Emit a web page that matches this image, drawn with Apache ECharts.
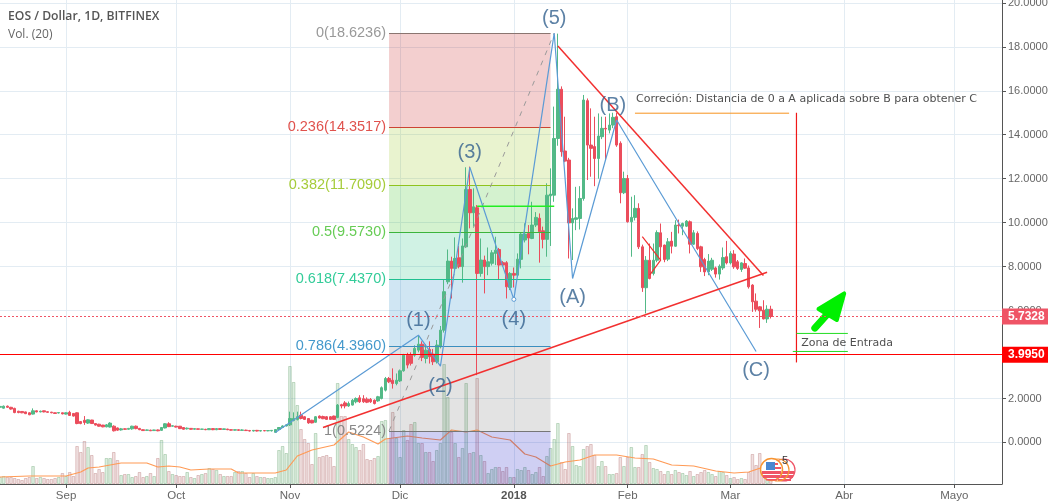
<!DOCTYPE html>
<html>
<head>
<meta charset="utf-8">
<script src="https://cdn.jsdelivr.net/npm/echarts@6/dist/echarts.min.js"></script>
<style>
html, body { margin: 0; padding: 0; background: #fff; }
#main { width: 1053px; height: 503px; }
</style>
</head>
<body>
<div id="main"></div>
<script>
// one entry per day, index 0 = 14 Aug 2017
const dayCount = 274;
const tickDays = [18, 48, 79, 109, 140, 171, 199, 230, 260];
const tickLabels = ['Sep', 'Oct', 'Nov', 'Dic', '2018', 'Feb', 'Mar', 'Abr', 'Mayo'];
const priceTicks = [0, 2, 4, 6, 8, 10, 12, 14, 16, 18, 20];

// open, close, low, high
const candles = [
[1.60,1.64,1.58,1.66],[1.56,1.65,1.54,1.68],[1.65,1.60,1.57,1.68],[1.60,1.52,1.49,1.62],[1.55,1.36,1.33,1.58],
[1.42,1.36,1.33,1.44],[1.41,1.35,1.33,1.42],[1.39,1.31,1.29,1.40],[1.35,1.26,1.24,1.37],[1.29,1.44,1.27,1.55],
[1.44,1.39,1.37,1.46],[1.39,1.42,1.37,1.45],[1.44,1.39,1.37,1.45],[1.40,1.37,1.36,1.41],[1.38,1.35,1.33,1.39],
[1.35,1.32,1.30,1.36],[1.34,1.36,1.32,1.37],[1.35,1.30,1.28,1.36],[1.29,1.35,1.27,1.37],[1.37,1.23,1.21,1.44],
[1.32,1.20,1.18,1.34],[1.35,0.86,0.83,1.37],[0.95,0.86,0.83,0.97],[1.01,0.91,0.80,1.20],[0.88,1.03,0.84,1.05],
[1.02,0.86,0.84,1.03],[0.86,0.79,0.77,0.88],[0.83,0.74,0.72,0.85],[0.79,0.71,0.69,0.80],[0.71,0.80,0.69,0.84],
[0.70,0.88,0.68,0.92],[0.74,0.53,0.50,0.78],[0.66,0.56,0.53,0.68],[0.57,0.62,0.54,0.66],[0.62,0.60,0.57,0.64],
[0.60,0.64,0.58,0.66],[0.62,0.74,0.58,0.76],[0.74,0.63,0.60,0.77],[0.64,0.58,0.56,0.66],[0.58,0.54,0.52,0.60],
[0.55,0.57,0.52,0.59],[0.56,0.53,0.52,0.58],[0.54,0.57,0.52,0.58],[0.57,0.53,0.51,0.59],[0.55,0.68,0.53,0.70],
[0.66,0.85,0.64,0.88],[0.85,0.72,0.70,0.92],[0.74,0.76,0.72,0.78],[0.74,0.70,0.68,0.76],[0.74,0.63,0.61,0.75],
[0.68,0.60,0.58,0.70],[0.62,0.65,0.59,0.68],[0.64,0.60,0.58,0.65],[0.60,0.63,0.58,0.64],[0.62,0.60,0.59,0.63],
[0.60,0.61,0.59,0.62],[0.60,0.58,0.56,0.62],[0.58,0.63,0.57,0.64],[0.63,0.58,0.56,0.64],[0.58,0.63,0.56,0.65],
[0.63,0.59,0.57,0.64],[0.59,0.62,0.57,0.63],[0.61,0.58,0.56,0.62],[0.58,0.56,0.54,0.60],[0.56,0.58,0.54,0.59],
[0.58,0.55,0.53,0.59],[0.55,0.57,0.53,0.60],[0.56,0.54,0.52,0.58],[0.54,0.52,0.50,0.57],[0.52,0.55,0.50,0.56],
[0.55,0.52,0.50,0.57],[0.52,0.54,0.50,0.56],[0.54,0.53,0.51,0.56],[0.53,0.54,0.51,0.55],[0.53,0.55,0.50,0.56],
[0.46,0.59,0.44,0.61],[0.59,0.68,0.57,0.70],[0.68,0.75,0.66,0.78],[0.75,0.80,0.73,0.83],[0.80,1.09,0.75,1.40],
[1.00,1.09,0.96,1.37],[1.05,1.17,1.00,1.40],[1.24,1.09,1.05,1.40],[1.17,1.05,1.03,1.19],[1.09,0.89,0.85,1.11],
[1.01,0.89,0.87,1.03],[0.92,1.17,0.90,1.20],[1.20,1.11,1.09,1.23],[1.18,1.08,1.06,1.22],[1.17,1.05,1.03,1.20],
[1.17,1.05,1.03,1.20],[1.20,1.05,1.03,1.22],[1.14,1.70,1.10,1.75],[1.72,1.66,1.55,1.76],[1.80,1.66,1.55,1.88],
[1.66,1.77,1.62,1.86],[1.70,1.92,1.68,1.98],[1.85,2.00,1.78,2.05],[2.03,1.85,1.80,2.15],[1.99,1.85,1.80,2.15],
[1.97,1.83,1.79,2.05],[1.96,1.85,1.80,2.02],[1.92,1.77,1.73,1.96],[1.89,2.08,1.85,2.12],[2.00,2.49,1.96,2.55],
[2.38,2.91,2.32,2.98],[2.91,2.76,2.70,2.98],[2.83,2.68,2.45,3.37],[2.68,2.83,2.60,3.14],[2.80,3.26,2.75,3.32],
[3.26,3.97,3.22,4.03],[3.97,3.52,3.37,4.08],[3.97,3.60,3.50,4.10],[3.97,4.28,3.90,4.42],[4.20,4.47,4.10,4.85],
[4.47,3.87,3.70,4.60],[3.82,4.20,3.60,4.47],[4.23,3.90,3.59,4.60],[4.02,3.67,3.52,4.25],[3.67,4.43,3.59,4.66],
[4.35,5.11,4.28,5.30],[5.11,6.86,5.00,7.39],[7.31,8.25,7.20,8.78],[8.25,7.92,6.55,8.45],[7.92,8.37,7.85,9.33],
[8.40,8.00,7.92,8.94],[8.00,8.94,7.27,9.28],[8.90,11.51,8.85,12.52],[11.51,10.45,9.74,12.55],[10.45,10.72,9.82,11.56],
[10.68,7.69,3.06,10.80],[7.69,8.30,7.54,9.28],[8.30,8.00,6.78,8.50],[8.00,8.22,7.61,8.87],[8.15,8.63,8.05,8.75],
[8.60,8.75,8.07,9.36],[8.78,8.07,7.39,8.85],[8.18,8.07,8.00,8.25],[8.18,7.08,6.55,8.25],[7.05,7.69,6.93,7.75],
[7.69,7.61,7.05,7.96],[7.61,8.34,7.55,8.60],[8.33,9.48,7.92,9.55],[9.21,9.48,9.10,9.97],[9.51,9.30,8.56,9.89],
[9.28,9.89,9.25,10.95],[9.89,10.24,9.80,10.48],[10.20,9.59,8.18,10.42],[9.63,9.24,8.83,9.82],[9.24,11.25,8.45,11.79],
[11.22,11.30,8.94,12.47],[11.25,13.83,10.95,15.28],[13.83,16.07,13.50,18.60],[16.07,13.23,13.00,16.20],[13.26,12.80,12.75,14.82],
[12.85,9.99,8.37,12.95],[9.99,10.19,8.30,10.65],[10.15,10.22,9.66,11.63],[10.19,11.10,9.69,11.66],[11.10,15.58,11.00,15.81],
[15.55,13.53,11.94,15.65],[13.53,13.38,12.09,15.20],[13.46,12.92,11.66,14.82],[12.92,13.94,12.00,14.97],[13.91,14.29,13.80,14.82],
[14.29,14.26,12.85,14.82],[14.21,14.44,14.06,14.97],[14.44,14.79,14.30,15.00],[14.82,13.53,13.45,15.00],[13.61,11.36,10.88,13.70],
[11.36,12.01,11.30,12.32],[12.01,10.04,10.00,12.17],[10.04,10.24,8.45,11.18],[10.24,10.65,10.10,11.25],[10.65,8.90,8.80,10.88],
[8.90,7.04,6.85,9.00],[7.04,8.29,5.87,8.48],[8.29,7.46,7.42,9.05],[7.69,8.29,7.60,9.05],[8.29,9.55,8.20,9.65],
[9.54,8.90,8.29,9.96],[8.98,8.32,8.20,9.00],[8.34,9.13,8.25,9.30],[9.16,8.93,8.60,9.58],[8.93,9.89,8.90,10.11],
[9.89,9.86,9.51,10.14],[9.84,9.96,9.43,10.00],[9.84,10.07,9.80,10.12],[10.04,9.02,8.60,10.10],[9.02,9.54,8.98,9.66],
[9.51,8.82,8.75,9.60],[8.90,7.99,7.76,8.95],[8.32,7.76,7.57,8.40],[7.76,8.25,7.61,8.57],[7.88,8.29,7.80,8.40],
[7.94,7.66,7.50,8.00],[7.66,8.02,7.41,8.10],[7.94,8.41,7.85,8.87],[8.45,8.17,8.10,9.17],[8.17,8.60,8.10,8.70],
[8.57,7.99,7.90,8.75],[8.22,7.92,7.85,8.30],[7.87,8.17,7.76,8.20],[8.14,7.93,7.90,8.37],[7.94,7.08,7.00,8.05],
[7.16,6.40,5.94,7.20],[6.43,6.06,5.95,6.78],[6.17,5.99,5.21,6.20],[6.02,5.62,5.60,6.47],[5.62,6.06,5.44,6.24],
[6.06,5.73,5.64,6.22]
];

// volume, read as bar height (no scale on the picture)
const volumes = [
7,8,7,7,6,5,4,6,7,18,6,7,6,5,5,6,7,11,8,12,8,38,32,43,37,29,11,15,12,26,
26,32,24,9,10,10,7,8,12,7,8,11,8,26,44,30,13,10,9,8,8,12,7,6,9,10,11,16,15,14,
10,8,8,8,12,13,13,11,7,11,8,7,7,6,6,7,34,38,31,118,102,79,55,45,41,20,51,27,28,29,
27,18,101,68,68,45,40,37,34,40,25,24,26,28,63,64,46,72,46,27,54,44,60,62,41,41,32,32,23,34,
41,120,87,52,41,27,36,101,31,32,106,29,23,11,15,17,17,13,17,7,7,15,14,17,14,10,12,17,8,28,
36,45,61,22,15,51,38,19,18,35,38,40,29,18,23,18,10,10,11,27,18,27,37,17,17,30,39,22,16,15,
13,10,13,10,14,12,11,9,13,8,10,12,14,12,10,8,13,12,9,6,7,5,6,5,12,30,19,31,17,10,10
];

// Vol MA (20): day, value
const maDays = [0,8,18,20,22,24,27,30,33,40,43,46,49,52,57,63,65,75,78,81,85,91,95,99,103,105,111,115,120,123,127,130,134,139,143,146,150,154,158,162,168,173,178,183,189,195,200,204,208];
const maValues = [7,8,8,10,12,16,17,19,21,21,17,18,17,14,15,15,11,11,14,28,34,39,52,47,40,45,48,46,44,54,52,54,47,44,30,27,18,22,24,29,29,26,25,19,18,13,11,12,17];

// fibonacci retracement
const fibStart = 106;
const fibEnd = 150;
const fibPrices = [18.6236, 14.3517, 11.7090, 9.5730, 7.4370, 4.3960, 0.5224];
const fibNames = ['0', '0.236', '0.382', '0.5', '0.618', '0.786', '1'];
const fibLineColors = ['#8a7570', '#cc4433', '#8fc31f', '#3cb43c', '#1fc08f', '#3a8fc0', '#777777'];
const fibTextColors = ['#999999', '#e0524d', '#a6cc3a', '#66cc55', '#33cc99', '#4499cc', '#888888'];
const fibFills = ['rgba(195,15,15,.2)', 'rgba(145,195,15,.2)', 'rgba(40,190,15,.2)', 'rgba(20,190,120,.2)', 'rgba(20,130,195,.2)', 'rgba(115,115,115,.2)', 'rgba(15,15,195,.2)'];
const fibBottom = -1.89;

// elliott wave
const waveDays = [75, 114, 120, 128, 140, 151, 156, 168, 206];
const wavePrices = [0.45, 4.88, 3.47, 12.52, 6.51, 18.62, 7.46, 14.67, 4.14];
const waveNames = ['(1)', '(2)', '(3)', '(4)', '(5)', '(A)', '(B)', '(C)'];
const waveNameDays = [114, 120, 128, 140, 151, 156, 167, 206];
const waveNamePrices = [5.57, 2.56, 13.21, 5.61, 19.31, 6.61, 15.31, 3.29];

// other drawings, as [day, price]
const fibTrend = [[106, 0.5224], [151, 18.6236]];
const trendDown = [[152, 18.04], [208, 7.6]];
const trendUp = [[88, 0.68], [209, 7.74]];
const smallTriangle = [[175, 9.36], [180, 8.30], [177, 7.61]];
const greenLevel = [[130, 10.75], [151, 10.75]];
const entryLine = [[217, 15.0], [217, 3.64]];
const noteLine = [[173, 14.98], [215, 14.98]];
const zoneTop = [[217, 4.96], [231, 4.96]];
const zoneBottom = [[216, 4.14], [231, 4.14]];
const arrowShaft = [[222, 5.20], [229, 6.50]];
const arrowHead = [[223, 6.07], [230, 6.78], [228, 5.57]];

const lastPrice = 5.7328;
const stopPrice = 3.9950;
const noteText = 'Correción: Distancia de 0 a A aplicada sobre B para obtener C';
const zoneText = 'Zona de Entrada';

const myChart = echarts.init(document.getElementById('main'));

const isTickDay = function (i) { return tickDays.indexOf(Number(i)) >= 0; };
const zip = function (xs, ys) { return xs.map(function (x, i) { return [x, ys[i]]; }); };

const drawing = function (data, color, width, extra) {
    return Object.assign({
        type: 'line', data: data, symbol: 'none', silent: true, z: 6, clip: false,
        lineStyle: { color: color, width: width }
    }, extra || {});
};

// fib bands and levels
const fibAreas = fibPrices.map(function (p, i) {
    const next = i < fibPrices.length - 1 ? fibPrices[i + 1] : fibBottom;
    return [
        { xAxis: fibStart, yAxis: p, itemStyle: { color: fibFills[i] } },
        { xAxis: fibEnd, yAxis: next }
    ];
});
const fibLines = fibPrices.map(function (p, i) {
    return [
        {
            coord: [fibStart, p],
            lineStyle: { color: fibLineColors[i], width: 1, type: 'solid' },
            label: {
                show: true, position: 'start', distance: 3,
                formatter: fibNames[i] + '(' + p.toFixed(4) + ')',
                color: fibTextColors[i], fontSize: 14.5, fontFamily: 'Liberation Sans'
            }
        },
        { coord: [fibEnd, p] }
    ];
});

const priceTag = function (price, dash, bg) {
    return [
        {
            coord: [0, price],
            lineStyle: { color: bg, width: 1, type: dash },
            label: {
                show: true, position: 'end', distance: 0, formatter: price.toFixed(4),
                color: '#fff', backgroundColor: bg, fontSize: 12, fontFamily: 'Liberation Sans',
                fontWeight: 'bold', padding: [2, 2, 2, 6], width: 38, lineHeight: 12
            }
        },
        { coord: [dayCount - 1, price] }
    ];
};

const volumeData = volumes.map(function (v, i) {
    const up = candles[i][1] >= candles[i][0];
    return {
        value: v,
        itemStyle: up
            ? { color: 'rgba(83,170,100,.2)', borderColor: 'rgba(83,150,90,.3)', borderWidth: 1 }
            : { color: 'rgba(170,90,90,.18)', borderColor: 'rgba(170,90,90,.3)', borderWidth: 1 }
    };
});

const option = {
    animation: false,
    backgroundColor: '#fff',
    title: {
        text: 'EOS / Dollar, 1D, BITFINEX',
        subtext: 'Vol. (20)',
        left: 8, top: 9, padding: 0, itemGap: 3,
        textStyle: { color: '#555', fontSize: 12.2, fontWeight: 600, fontFamily: 'Open Sans', lineHeight: 16 },
        subtextStyle: { color: '#666', fontSize: 12, fontFamily: 'Open Sans', lineHeight: 14 }
    },
    grid: { left: 0, top: 0, width: 1002, height: 484, containLabel: false, outerBoundsMode: 'none' },
    xAxis: {
        type: 'category',
        boundaryGap: false,
        data: Array.from({ length: dayCount }, function (_, i) { return i; }),
        axisLine: { onZero: false, lineStyle: { color: '#555', width: 1 } },
        axisTick: { interval: isTickDay, length: 4, lineStyle: { color: '#555' } },
        axisLabel: {
            interval: isTickDay, margin: 6, color: '#666', fontSize: 11.5, fontFamily: 'Liberation Sans',
            formatter: function (v) {
                const name = tickLabels[tickDays.indexOf(Number(v))];
                return name === '2018' ? '{b|2018}' : name;
            },
            rich: { b: { fontWeight: 'bold', color: '#555', fontSize: 11.5, fontFamily: 'Liberation Sans' } }
        },
        splitLine: { show: true, interval: isTickDay, lineStyle: { color: '#e3ecf3', width: 1 } }
    },
    yAxis: [{
        type: 'value',
        position: 'right',
        min: -1.89,
        max: 20.13,
        axisLine: { show: true, lineStyle: { color: '#555', width: 1 } },
        axisTick: { show: true, length: 4, lineStyle: { color: '#555' }, customValues: priceTicks },
        axisLabel: {
            margin: 6, color: '#666', fontSize: 11, fontFamily: 'Liberation Sans', customValues: priceTicks,
            formatter: function (v) { return v.toFixed(4); }
        },
        splitLine: { show: true, lineStyle: { color: '#e3ecf3', width: 1 } }
    }, {
        type: 'value', min: 0, max: 484, show: false
    }],
    series: [
        {
            type: 'bar', name: 'Vol', yAxisIndex: 1, data: volumeData, barWidth: 3.6, z: 2, silent: true
        },
        drawing(zip(maDays, maValues), '#ff9a55', 1.2, { yAxisIndex: 1, z: 3 }),
        {
            type: 'candlestick', data: candles, barWidth: 3, z: 5, silent: true,
            itemStyle: { color: '#53b987', color0: '#eb4d5c', borderColor: '#53b987', borderColor0: '#eb4d5c', borderWidth: 1 }
        },
        // fib bands sit over the volume bars, levels carry the price labels
        {
            type: 'line', data: [], silent: true, z: 4,
            markArea: { silent: true, z: 4, data: fibAreas },
            markLine: { silent: true, symbol: 'none', z: 6, data: fibLines, animation: false }
        },
        drawing(fibTrend, '#9a9a9a', 1, { lineStyle: { color: '#9a9a9a', width: 1, type: [5, 6] } }),
        drawing(zip(waveDays, wavePrices), '#5b9bd5', 1.2, {
            symbol: 'circle', symbolSize: 4, showSymbol: true,
            itemStyle: { color: '#fff', borderColor: '#5b9bd5', borderWidth: 1 }
        }),
        drawing(trendDown, '#f23030', 1.5),
        drawing(trendUp, '#f23030', 1.5),
        drawing(smallTriangle, '#f23030', 1.2),
        drawing(greenLevel, '#22ee22', 1.5),
        drawing(entryLine, '#f01818', 1.2),
        drawing(noteLine, '#f7931e', 1),
        drawing(zoneTop, '#22dd22', 1),
        drawing(zoneBottom, '#22dd22', 1),
        {
            type: 'line', data: [], silent: true, z: 7,
            markLine: {
                silent: true, symbol: 'none', z: 7, animation: false,
                data: [priceTag(lastPrice, [2, 2], '#ef5466'), priceTag(stopPrice, 'solid', '#ff0000')]
            }
        },
        drawing(arrowShaft, '#00f000', 7, { lineStyle: { color: '#00f000', width: 7, cap: 'round' } }),
        {
            type: 'custom', data: [arrowHead[1]], silent: true, z: 8, clip: false,
            renderItem: function (params, api) {
                return {
                    type: 'polygon',
                    shape: { points: arrowHead.map(function (p) { return api.coord(p); }) },
                    style: { fill: '#00f000', stroke: '#00f000', lineWidth: 4, lineJoin: 'round' }
                };
            }
        },
        {
            type: 'scatter', symbolSize: 0, silent: true, z: 9, clip: false,
            data: waveNames.map(function (n, i) {
                return { name: n, value: [waveNameDays[i], waveNamePrices[i]] };
            }),
            label: {
                show: true, position: 'inside', formatter: '{b}',
                color: '#33628f', fontSize: 20, fontFamily: 'Liberation Sans'
            }
        },
        {
            type: 'scatter', symbolSize: 0, silent: true, z: 9, clip: false,
            data: [
                { name: noteText, value: [173, 15.63] },
                { name: zoneText, value: [218, 4.52] }
            ],
            label: {
                show: true, position: 'right', distance: 1, formatter: '{b}',
                color: '#222', fontSize: 11, fontFamily: 'DejaVu Sans'
            }
        }
    ],
    // economic calendar badge on the last bars
    graphic: [
        { type: 'circle', z: 20, shape: { cx: 784, cy: 470, r: 11 }, style: { fill: '#fff', stroke: '#ef5466', lineWidth: 1.2 } },
        { type: 'rect', z: 20, shape: { x: 775, y: 471, width: 19, height: 3 }, style: { fill: '#ef5466' } },
        { type: 'rect', z: 20, shape: { x: 776, y: 475, width: 17, height: 3 }, style: { fill: '#ef5466' } },
        { type: 'rect', z: 20, shape: { x: 778, y: 479, width: 13, height: 2 }, style: { fill: '#ef5466' } },
        { type: 'circle', z: 21, shape: { cx: 778, cy: 470, r: 11 }, style: { fill: 'none', stroke: '#f79432', lineWidth: 1.2 } },
        { type: 'circle', z: 21, shape: { cx: 771.5, cy: 469.5, r: 11 }, style: { fill: '#fff', stroke: '#f79432', lineWidth: 1.5 } },
        { type: 'rect', z: 22, shape: { x: 762, y: 471, width: 19, height: 3 }, style: { fill: '#ef5466' } },
        { type: 'rect', z: 22, shape: { x: 763, y: 475, width: 17, height: 3 }, style: { fill: '#ef5466' } },
        { type: 'rect', z: 22, shape: { x: 766, y: 479, width: 11, height: 1.5 }, style: { fill: '#ef5466' } },
        { type: 'rect', z: 22, shape: { x: 766, y: 462, width: 9, height: 8 }, style: { fill: '#4a86d0' } },
        { type: 'rect', z: 22, shape: { x: 775, y: 463, width: 3, height: 2 }, style: { fill: '#ef5466' } },
        { type: 'rect', z: 22, shape: { x: 775, y: 467, width: 6, height: 2 }, style: { fill: '#ef5466' } },
        { type: 'text', z: 22, style: { x: 782, y: 455, text: '5', fill: '#333', font: '11px Liberation Sans' } }
    ]
};

myChart.setOption(option);
</script>
</body>
</html>
